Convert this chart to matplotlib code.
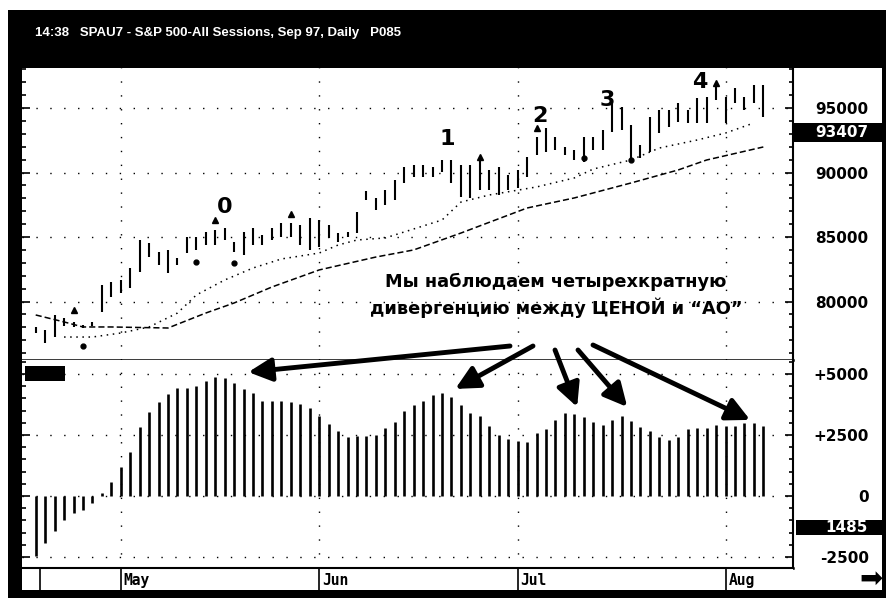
import numpy as np
import matplotlib
matplotlib.use("Agg")
import matplotlib.pyplot as plt
from matplotlib.patches import Rectangle

# --- data ---
# bar index 0 = mid April 1997, one bar per trading day
highs = [78030, 77800, 78960, 78730, 78420, 78180, 78420, 81280, 81520, 81670,
         82600, 84770, 84540, 83840, 84000, 83380, 85000, 85000, 85390, 85550,
         85700, 84620, 85390, 85700, 85160, 85700, 86090, 86090, 85930, 86480,
         86320, 85930, 85310, 85390, 86940, 88570, 88030, 88650, 89420, 90430,
         90580, 90580, 90430, 90970, 90970, 90580, 90580, 90970, 90200, 90430,
         89810, 90200, 91200, 92750, 93450, 92750, 91980, 91740, 92750, 92750,
         93300, 95390, 95080, 93680, 92130, 94300, 94840, 94840, 95390, 94840,
         95780, 95850, 96940, 95850, 96550, 95850, 96780, 96780]
lows = [77560, 76790, 77250, 78100, 78030, 77950, 78100, 79190, 80350, 80660,
        81050, 82290, 83450, 82830, 82210, 82830, 83760, 84000, 84380, 84380,
        84770, 83840, 83610, 84380, 84380, 84770, 85000, 85000, 84380, 84000,
        84230, 84930, 84620, 85000, 85310, 87870, 87100, 87480, 87870, 89190,
        89650, 89650, 89650, 90040, 89190, 88100, 88030, 88650, 88650, 88260,
        88650, 88800, 89650, 91360, 91590, 91740, 91360, 90970, 90820, 91740,
        91740, 93140, 93300, 90970, 91130, 91590, 93060, 93530, 93920, 93840,
        93840, 93840, 95620, 93840, 95390, 94840, 95390, 94300]

# fractal markers
frac_up_idx = [4, 19, 27, 47, 53, 72]
frac_up_val = [79350, 86320, 86780, 91200, 93450, 96940]
frac_dn_idx = [5, 17, 21, 58, 63]
frac_dn_val = [76560, 83070, 82990, 91130, 90970]

# two moving average lines
slow_idx = [0, 3, 5, 8, 14, 18, 21, 25, 30, 36, 40, 45, 52, 57, 63, 68, 71, 77]
slow_val = [78960, 78420, 78030, 78030, 77950, 79110, 79890, 81130, 82450, 83450,
            84000, 85310, 87250, 88030, 89190, 90200, 90970, 91980]
fast_idx = [3, 6, 9, 12, 15, 17, 20, 23, 26, 30, 32, 34, 37, 43, 45, 48, 53, 57,
            59, 63, 66, 70, 73, 76]
fast_val = [77250, 77250, 77560, 78030, 79110, 80510, 81670, 82600, 83300, 83760,
            84380, 84770, 84930, 86320, 87710, 88260, 88880, 89580, 90270, 90970,
            91900, 92520, 93060, 93840]

# Awesome Oscillator histogram
ao = [-2450, -1910, -1420, -985, -710, -575, -290, 135, 590, 1200,
      1820, 2815, 3460, 3870, 4180, 4415, 4440, 4510, 4715, 4865,
      4850, 4620, 4375, 4235, 3910, 3910, 3910, 3870, 3760, 3595,
      3280, 2950, 2665, 2405, 2460, 2460, 2500, 2775, 3045, 3500,
      3730, 3910, 4140, 4210, 4070, 3730, 3415, 3280, 2870, 2500,
      2335, 2255, 2225, 2570, 2735, 3115, 3415, 3360, 3225, 3045,
      2910, 3115, 3280, 3090, 2815, 2680, 2435, 2295, 2435, 2735,
      2775, 2775, 2910, 2870, 2870, 2980, 2980, 2870]

months = ["May", "Jun", "Jul", "Aug"]
month_idx = [9, 30, 51, 73]

price_ticks = [80000, 85000, 90000, 95000]
ao_ticks = [-2500, 0, 2500, 5000]
ao_labels = ["-2500", "0", "+2500", "+5000"]

# wave labels 0..4 and arrow heads (index, AO value)
wave_lbl = ["0", "1", "2", "3", "4"]
wave_idx = [20.0, 43.5, 53.4, 60.5, 70.3]
wave_val = [87330, 92600, 94380, 95620, 97020]
arrow_idx = [22.5, 44.4, 57.3, 62.6, 75.6]
arrow_val = [5080, 4390, 3650, 3650, 3120]
arrow_tail = [(510, 346), (533, 346), (555, 350), (578, 350), (593, 345)]

W, H = 892, 598
fig = plt.figure(figsize=(W / 100, H / 100), dpi=100)


def box(x0, y0, x1, y1):
    # pixel box (top-left origin) -> figure fraction rect
    return [x0 / W, 1 - y1 / H, (x1 - x0) / W, (y1 - y0) / H]


# black frame with white inner area
fig.add_artist(Rectangle((8 / W, 0), (886 - 8) / W, (H - 10) / H,
                         transform=fig.transFigure, facecolor="black", zorder=-2))
fig.add_artist(Rectangle((22 / W, 8 / H), (882 - 22) / W, (590 - 68) / H,
                         transform=fig.transFigure, facecolor="white", zorder=-1))

x = np.arange(len(ao))
xlim = (-1.45, 80.14)
grid_ls = (0, (1, 9))

ax1 = fig.add_axes(box(22, 68, 793, 360))
ax2 = fig.add_axes(box(22, 360, 793, 568))
ax3 = fig.add_axes(box(22, 568, 793, 590))

# --- price panel ---
ax1.vlines(x, lows, highs, color="black", lw=1.5)
ax1.plot(frac_up_idx, np.array(frac_up_val), "^", color="black", ms=4)
ax1.plot(frac_dn_idx, np.array(frac_dn_val), "o", color="black", ms=3.5)
ax1.plot(slow_idx, slow_val, color="black", lw=1.1, linestyle=(0, (4, 2)))
ax1.plot(fast_idx, fast_val, color="black", lw=1.1, linestyle=(0, (1, 3)))
ax1.set_xlim(xlim)
ax1.set_ylim(75470, 98100)

for lbl, i, v in zip(wave_lbl, wave_idx, wave_val):
    ax1.text(i, v, lbl, ha="center", va="center", fontsize=16, fontweight="bold")

ax1.text(55.06, 80470, "Мы наблюдаем четырехкратную\nдивергенцию между ЦЕНОЙ и “АО”",
         ha="center", va="center", fontsize=12.8, fontweight="bold", linespacing=1.35)

# --- AO panel ---
ax2.vlines(x, 0, ao, color="black", lw=1.9)
ax2.set_xlim(xlim)
ax2.set_ylim(-2952, 5576)

for ax, yt, ylab in [(ax1, price_ticks, [str(t) for t in price_ticks]),
                     (ax2, ao_ticks, ao_labels)]:
    ax.set_yticks(yt)
    ax.set_yticklabels(ylab)
    ax.set_xticks(month_idx)
    ax.tick_params(axis="x", length=0, labelbottom=False)
    ax.tick_params(axis="y", which="both", direction="in", left=True, right=True,
                   labelleft=False, labelright=True, pad=54.5,
                   labelsize=11, width=1.2)
    ax.tick_params(axis="y", which="major", length=6)
    ax.tick_params(axis="y", which="minor", length=3)
    for t in ax.get_yticklabels():
        t.set_horizontalalignment("right")
        t.set_fontweight("bold")
    ax.grid(True, color="black", lw=1, linestyle=grid_ls)
    ax.spines["left"].set_visible(False)
    ax.spines["top"].set_visible(False)
    ax.spines["right"].set_linewidth(1.5)
    ax.spines["bottom"].set_linewidth(1.8)

ax1.set_yticks(np.arange(76000, 98001, 1000), minor=True)
ax2.set_yticks(np.arange(-2500, 5501, 500), minor=True)

# value boxes on the right scale
ax1.add_patch(Rectangle((1.0, 92365), 1.1154 - 1.0, 93840 - 92365,
                        transform=ax1.get_yaxis_transform(), facecolor="black",
                        clip_on=False))
ax1.text(1.0973, 93100, "93407", transform=ax1.get_yaxis_transform(), ha="right",
         va="center", color="white", fontsize=11, fontweight="bold")
ax2.add_patch(Rectangle((1.0039, -1600), 1.1154 - 1.0039, 616,
                        transform=ax2.get_yaxis_transform(), facecolor="black",
                        clip_on=False))
ax2.text(1.0973, -1290, "1485", transform=ax2.get_yaxis_transform(), ha="right",
         va="center", color="white", fontsize=11, fontweight="bold")
ax2.add_patch(Rectangle((0.004, 4715), 0.052, 615,
                        transform=ax2.get_yaxis_transform(), facecolor="black"))

# arrows from the note down to the AO peaks
for i, v, (tx, ty) in zip(arrow_idx, arrow_val, arrow_tail):
    ax2.annotate("", xy=(i, v), xycoords="data", xytext=(tx, H - ty),
                 textcoords="figure pixels", annotation_clip=False,
                 arrowprops=dict(arrowstyle="-|>,head_length=0.7,head_width=0.35",
                                 color="black", lw=3.5, mutation_scale=20,
                                 shrinkA=0, shrinkB=0))

# --- date strip ---
ax3.set_xlim(xlim)
ax3.set_ylim(0, 1)
ax3.set_xticks([])
ax3.set_yticks([])
for s in ["left", "right", "bottom"]:
    ax3.spines[s].set_visible(False)
ax3.spines["top"].set_linewidth(1.5)
ax3.axvline(0.45, color="black", lw=1.2)
for m, i in zip(months, month_idx):
    ax3.axvline(i, color="black", lw=1.2)
    ax3.text(i + 0.3, 0.42, m, ha="left", va="center", fontsize=10.5,
             fontweight="bold", family="DejaVu Sans Mono")

# header text and corner arrow
fig.text(35 / W, 1 - 33 / H, "14:38   SPAU7 - S&P 500-All Sessions, Sep 97, Daily   P085",
         color="white", fontsize=9.5, fontweight="bold", family="Liberation Sans",
         va="center", ha="left")
fig.text(871 / W, 1 - 579 / H, "➡", ha="center", va="center", fontsize=20,
         color="black")

fig.savefig("out.png", dpi=100)
